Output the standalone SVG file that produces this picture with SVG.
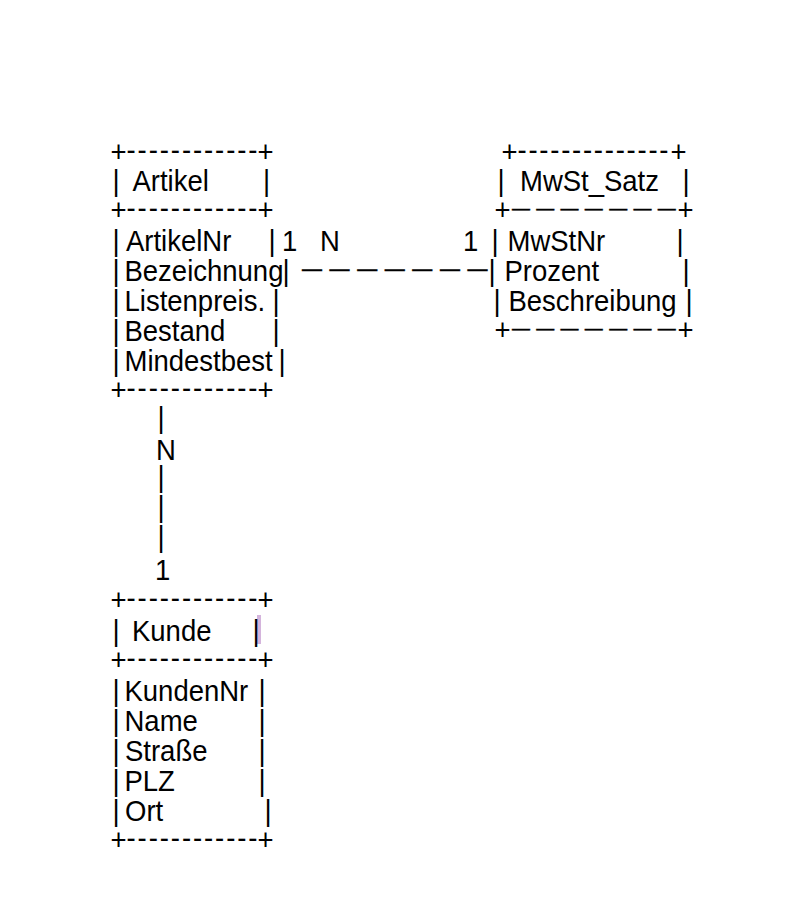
<svg xmlns="http://www.w3.org/2000/svg" width="805" height="918" viewBox="0 0 805 918">
<style>
text{font-family:"Liberation Sans",Arial,Helvetica,sans-serif;font-size:27.5px;fill:#000}
.d{font-size:20px;stroke:#000;stroke-width:0.4}
.d2{font-size:18px;stroke:#000;stroke-width:0.4}
</style>
<rect x="0" y="0" width="805" height="918" fill="#fff"/>
<rect x="257" y="615" width="4" height="29" fill="#d4b4dc"/>
<g transform="scale(1,1.08)">
<g id="artikel">
<text x="110.5" y="150.4">+</text><text x="126.5" y="148" textLength="131">------------</text><text x="257.5" y="150.4">+</text>
<text x="112.5" y="176.5">|</text><text x="132.5" y="176.5">Artikel</text><text x="263" y="176.5">|</text>
<text x="110.5" y="204.1">+</text><text x="126.5" y="201.7" textLength="131">------------</text><text x="257.5" y="204.1">+</text>
<text x="112.5" y="232">|</text><text x="126" y="232">ArtikelNr</text><text x="268.5" y="232">|</text>
<text x="112.5" y="259.8">|</text><text x="124.5" y="259.8">Bezeichnung</text><text x="282.5" y="259.8">|</text>
<text x="112.5" y="287.6">|</text><text x="124.5" y="287.6">Listenpreis.</text><text x="272.5" y="287.6">|</text>
<text x="112.5" y="315.4">|</text><text x="124.5" y="315.4">Bestand</text><text x="272.5" y="315.4">|</text>
<text x="112.5" y="343.1">|</text><text x="124.5" y="343.1">Mindestbest</text><text x="278.5" y="343.1">|</text>
<text x="110.5" y="370.7">+</text><text x="126.5" y="368.3" textLength="131">------------</text><text x="257.5" y="370.7">+</text>
</g>
<g id="mwst_satz">
<text x="501.5" y="150.4">+</text><text x="517.5" y="148" textLength="151">--------------</text><text x="670.5" y="150.4">+</text>
<text x="497.5" y="176.5">|</text><text x="520" y="176.5">MwSt_Satz</text><text x="682.5" y="176.5">|</text>
<text x="494.5" y="204.1">+</text><text class="d2" x="512" y="199.2" letter-spacing="6.3">———————</text><text x="677.5" y="204.1">+</text>
<text x="491.5" y="232">|</text><text x="507.5" y="232">MwStNr</text><text x="676.5" y="232">|</text>
<text x="488.5" y="259.8">|</text><text x="504.5" y="259.8">Prozent</text><text x="682.5" y="259.8">|</text>
<text x="493.5" y="287.6">|</text><text x="508.5" y="287.6">Beschreibung</text><text x="685.5" y="287.6">|</text>
<text x="494.5" y="315.2">+</text><text class="d2" x="512" y="310.3" letter-spacing="6.3">———————</text><text x="677.5" y="315.2">+</text>
</g>
<g id="kunde">
<text x="110.5" y="565.2">+</text><text x="126.5" y="562.8" textLength="131">------------</text><text x="257.5" y="565.2">+</text>
<text x="112.5" y="593.1">|</text><text x="132" y="593.1">Kunde</text><text x="252.5" y="593.1">|</text>
<text x="110.5" y="620.7">+</text><text x="126.5" y="618.3" textLength="131">------------</text><text x="257.5" y="620.7">+</text>
<text x="112.5" y="648.7">|</text><text x="124.5" y="648.7">KundenNr</text><text x="258.5" y="648.7">|</text>
<text x="112.5" y="676.5">|</text><text x="124.5" y="676.5">Name</text><text x="258.5" y="676.5">|</text>
<text x="112.5" y="704.3">|</text><text x="125" y="704.3">Straße</text><text x="258.5" y="704.3">|</text>
<text x="112.5" y="732">|</text><text x="124.5" y="732">PLZ</text><text x="258.5" y="732">|</text>
<text x="112.5" y="759.8">|</text><text x="125" y="759.8">Ort</text><text x="264.5" y="759.8">|</text>
<text x="110.5" y="787.4">+</text><text x="126.5" y="785" textLength="131">------------</text><text x="257.5" y="787.4">+</text>
</g>
<g id="connectors">
<text x="282" y="232">1</text><text x="320" y="232">N</text><text x="463" y="232">1</text>
<text class="d" x="302" y="255.2" letter-spacing="7.6">———————</text>
<text x="157.5" y="396">|</text>
<text x="156" y="425.6">N</text>
<text x="157.5" y="450.6">|</text>
<text x="157.5" y="478.4">|</text>
<text x="157.5" y="506.2">|</text>
<text x="155" y="536.7">1</text>
</g>
</g>
</svg>
